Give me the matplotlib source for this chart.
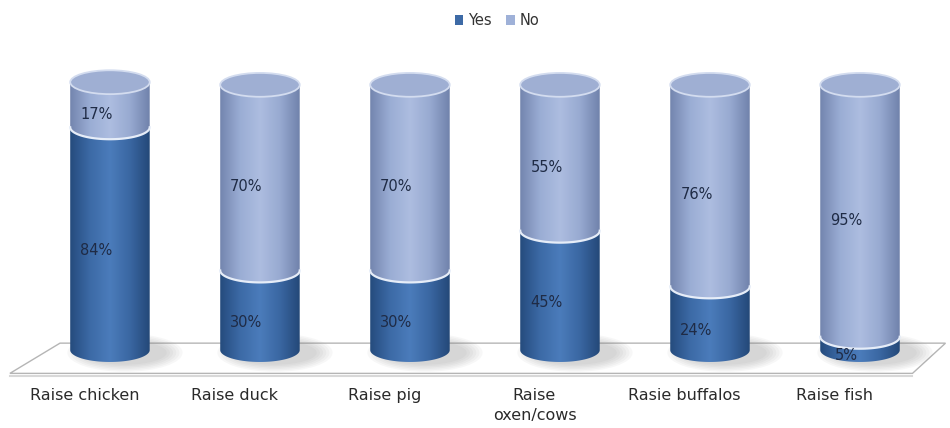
import numpy as np
import matplotlib.pyplot as plt
from matplotlib.patches import Ellipse, Polygon, PathPatch, Patch
from matplotlib.path import Path
from matplotlib.colors import LinearSegmentedColormap

categories = ["Raise chicken", "Raise duck", "Raise pig", "Raise\noxen/cows",
              "Rasie buffalos", "Raise fish"]
yes = [84, 30, 30, 45, 24, 5]
no = [17, 70, 70, 55, 76, 95]

yes_color = "#3d6aa6"
no_color = "#9fb1d8"
yes_cmap = LinearSegmentedColormap.from_list(
    "yes", ["#254b7d", "#3c6aa6", "#4b7cbb", "#3a67a2", "#244878"])
no_cmap = LinearSegmentedColormap.from_list(
    "no", ["#7385ae", "#9aadd4", "#adbde0", "#98aad1", "#7082ab"])

bar_w = 0.53
ell_h = 9.0  # ellipse height in percent units


def segment(ax, x, y0, y1, cmap, z):
    # cylinder body: rectangle with a curved (front half ellipse) bottom
    t = np.linspace(np.pi, 2 * np.pi, 60)
    xs = x + bar_w / 2 * np.cos(t)
    ys = y0 + ell_h / 2 * np.sin(t)
    verts = [(x - bar_w / 2, y1)] + list(zip(xs, ys)) + [(x + bar_w / 2, y1), (x - bar_w / 2, y1)]
    patch = PathPatch(Path(verts), facecolor="none", edgecolor="none", zorder=z)
    ax.add_patch(patch)
    grad = np.linspace(0, 1, 256).reshape(1, -1)
    im = ax.imshow(grad, cmap=cmap, extent=[x - bar_w / 2, x + bar_w / 2, y0 - ell_h / 2, y1],
                   aspect="auto", zorder=z, interpolation="bilinear")
    im.set_clip_path(patch)
    return xs, ys


fig = plt.figure(figsize=(9.5, 4.28), dpi=100)
ax = fig.add_axes([0, 0, 1, 1])
ax.axis("off")

n = len(categories)
xpos = np.arange(n)

# floor
floor = Polygon([(-0.333, 2.6), (n - 1 + 0.57, 2.6), (n - 1 + 0.35, -8.8), (-0.667, -8.8)],
                closed=True, facecolor="white", edgecolor="#b5b5b5", lw=1.0, zorder=1)
ax.add_patch(floor)
ax.plot([-0.667, n - 1 + 0.35], [-9.8, -9.8], color="#d8d8d8", lw=1.5, zorder=0.9)

for i, x in enumerate(xpos):
    # soft shadow
    for k in range(6):
        ax.add_patch(Ellipse((x + 0.1, -1.0), bar_w * (1.05 + 0.08 * k), ell_h * (1.0 + 0.12 * k),
                             facecolor="#808080", alpha=0.06, edgecolor="none", zorder=1.5))
    top = yes[i] + no[i]
    segment(ax, x, 0, yes[i], yes_cmap, 3)
    bx, by = segment(ax, x, yes[i], top, no_cmap, 4)
    ax.plot(bx, by, color="#e6edf8", lw=1.6, zorder=4.5)
    ax.add_patch(Ellipse((x, top), bar_w, ell_h, facecolor="#9fafd3",
                         edgecolor="#d3dcef", lw=1.3, zorder=5))

    ax.text(x - 0.09, yes[i] / 2 - 4.5, f"{yes[i]}%", ha="center", va="center",
            fontsize=10.5, color="#1f2b45", zorder=6)
    ax.text(x - 0.09, yes[i] + no[i] / 2 - 3.5, f"{no[i]}%", ha="center", va="center",
            fontsize=10.5, color="#1f2b45", zorder=6)
    ax.text(x - 0.17, -14.3, categories[i], ha="center", va="top", fontsize=11.5,
            color="#2a2a2a", linespacing=1.45, zorder=6)

ax.set_xlim(-0.733, 5.6)
ax.set_ylim(-29.4, 132)

handles = [Patch(facecolor=yes_color, label="Yes"), Patch(facecolor=no_color, label="No")]
ax.legend(handles=handles, loc="upper center", bbox_to_anchor=(0.523, 1.0), ncol=2,
          frameon=False, fontsize=10.5, handlelength=0.6, handleheight=0.6,
          handletextpad=0.3, columnspacing=1.0, labelcolor="#333333")

fig.savefig("out.png", dpi=100)
